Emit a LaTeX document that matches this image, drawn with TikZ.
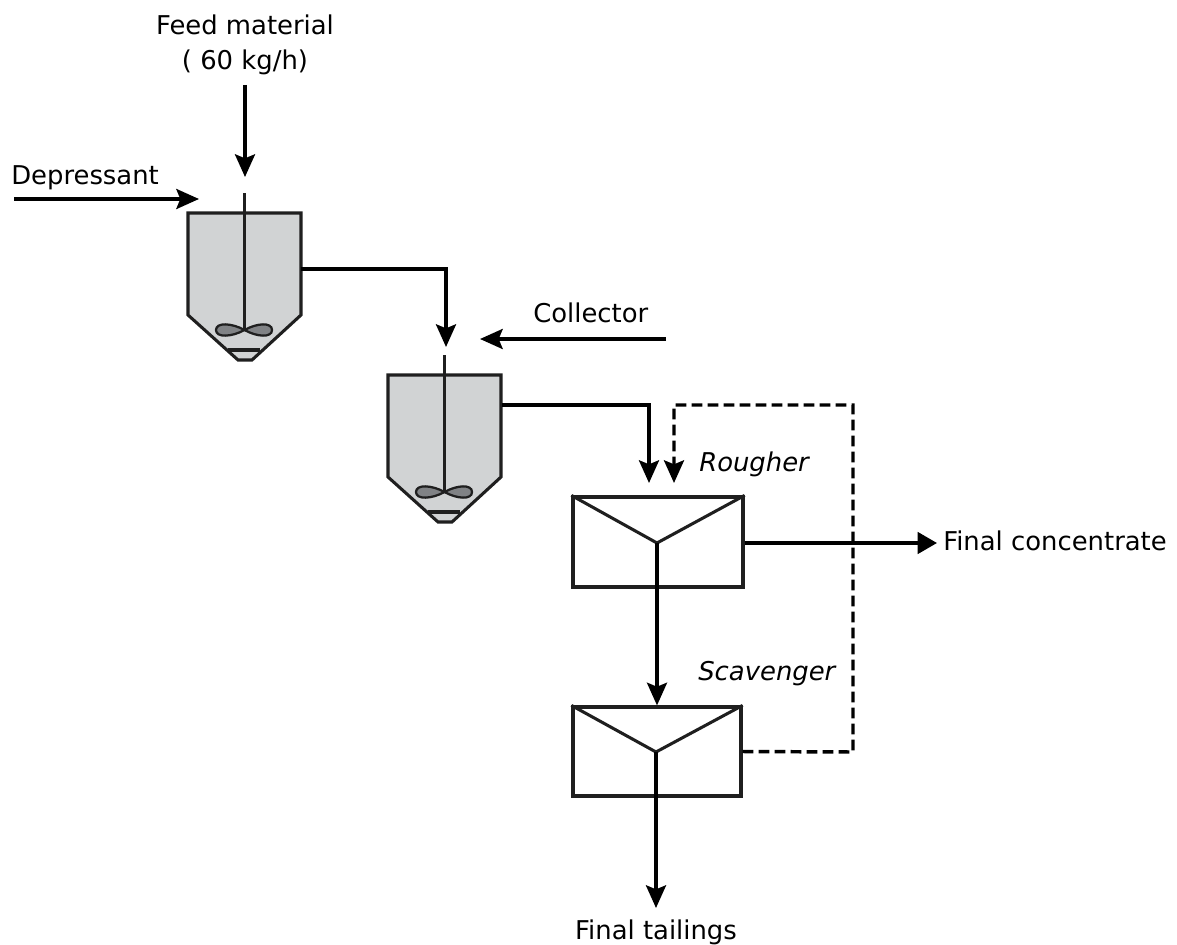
\documentclass[tikz,border=0pt]{standalone}
\usepackage{fontspec}
\setmainfont{DejaVu Sans}
\usetikzlibrary{arrows.meta}
\definecolor{tankgray}{HTML}{D1D3D4}
\definecolor{bladegray}{HTML}{808285}
\tikzset{
  flow/.style={line width=2.6pt,-{Stealth[length=17pt,width=15pt,inset=3pt]}},
  flowend/.style={line width=2.6pt,-{Triangle[length=14.5pt,width=16pt]}},
  flowback/.style={flow,dash pattern=on 8pt off 4pt},
  outline/.style={line width=2.3pt,draw=black!88},
  cellbox/.style={draw=black!88,line width=2.4pt,fill=white,rectangle,inner sep=0pt},
  lbl/.style={font=\fontsize{19.4pt}{26pt}\selectfont,inner sep=0pt,align=center},
  ilbl/.style={lbl,font=\fontsize{19.4pt}{26pt}\selectfont\itshape}
}
\newcommand{\mixtank}[1]{%
  \begin{scope}[shift={#1}]
    \draw[outline,fill=tankgray,line join=miter] (188,213) -- (301,213) -- (301,315) -- (252,360) -- (238,360) -- (188,315) -- cycle;
    \draw[outline] (228,350) -- (260,350);
    \draw[line width=1.9pt,draw=black!88] (244.5,193) -- (244.5,330);
    \draw[line width=1.7pt,draw=black!88,fill=bladegray] (244.5,330) .. controls (232,323) and (216,322) .. (216,330) .. controls (216,338) and (232,337) .. (244.5,330) .. controls (257,323) and (272,322) .. (272,330) .. controls (272,338) and (257,337) .. (244.5,330) -- cycle;
  \end{scope}}
\begin{document}
\begin{tikzpicture}[x=0.75pt,y=-0.75pt]
\useasboundingbox (0,0) rectangle (1177,945);
\mixtank{(0,0)}
\mixtank{(200,162)}
% named points
\coordinate (feedS) at (245,85);
\coordinate (feedE) at (245,177);
\coordinate (depS) at (14,199);
\coordinate (depE) at (199,199);
\coordinate (t1out) at (301,269);
\coordinate (t1in) at (446,347);
\coordinate (colS) at (666,339);
\coordinate (colE) at (480,339);
\coordinate (t2out) at (502,405);
\coordinate (rIn) at (649,483);
\coordinate (rBack) at (674,483);
\coordinate (concE) at (937,543);
\coordinate (tailE) at (656,908);
% cells
\node[cellbox,minimum width=127.5pt,minimum height=67.5pt] (rougher) at (658,542) {};
\node[cellbox,minimum width=126pt,minimum height=66.75pt] (scav) at (657,751.5) {};
\coordinate (rV) at (657,543);
\coordinate (sV) at (656,752);
\draw[outline] (rougher.north west) -- (rV) -- (rougher.north east);
\draw[outline] (scav.north west) -- (sV) -- (scav.north east);
% connectors
\draw[flow] (feedS) -- (feedE);
\draw[flow] (depS) -- (depE);
\draw[flow] (t1out) -| (t1in);
\draw[flow] (colS) -- (colE);
\draw[flow] (t2out) -| (rIn);
\draw[flowback] (scav.east) -- (853,752) -- (853,405) -| (rBack);
\draw[flowend] (rougher.east |- rV) -- (concE);
\draw[flow] (rV) -- (scav.north -| rV);
\draw[flow] (sV) -- (tailE);
% labels
\node[lbl] (feed) at (245,45) {Feed material\\( 60 kg/h)};
\node[lbl,anchor=west] (dep) at (11,178) {Depressant};
\node[lbl,anchor=west] (col) at (533,313) {Collector};
\node[ilbl,anchor=west] (rl) at (699,464) {Rougher};
\node[ilbl,anchor=west] (sl) at (698,674) {Scavenger};
\node[lbl,anchor=west] (conc) at (943,541) {Final concentrate};
\node[lbl] (tail) at (656,932) {Final tailings};
\end{tikzpicture}
\end{document}
